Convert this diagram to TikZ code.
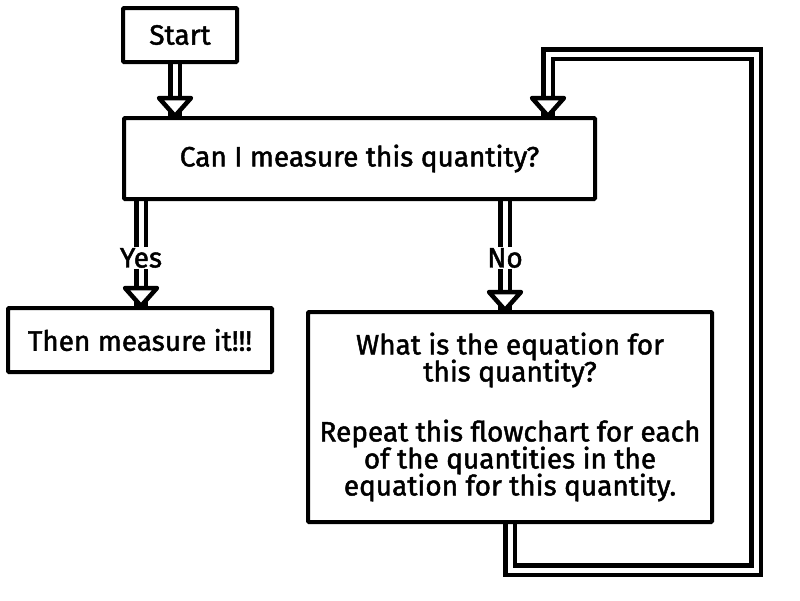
\documentclass[tikz,border=0pt]{standalone}
\usepackage{fontspec}
\setmainfont{Fira Sans}[BoldFont=Fira Sans, BoldFeatures={FakeBold=1.6}]
\usetikzlibrary{backgrounds}
\newcommand\tightlines{\lineskiplimit=-20pt\relax}

\tikzset{
  box/.style={draw, line width=4pt, fill=white, rounded corners=1pt, align=center,
    font=\fontsize{28}{27}\selectfont\bfseries\tightlines},
  pipe/.style={draw, line width=4.5pt, double=white, double distance=5pt},
  lbl/.style={fill=white, inner sep=1pt, font=\fontsize{28}{27}\selectfont\bfseries},
  head/.pic={\draw[line width=4.5pt, line join=round, fill=white] (0,0) -- (-16,-18) -- (16,-18) -- cycle;}
}

\begin{document}
\begin{tikzpicture}[x=1pt, y=-1pt]
    \useasboundingbox (0,0) rectangle (800,600);

    \node[box, minimum width=114, minimum height=54] (start) at (180,35) {Start};
    \node[box, minimum width=471, minimum height=81] (ask) at (359.5,158.5) {Can I measure this quantity?};
    \node[box, minimum width=264, minimum height=64] (then) at (140,340) {Then measure it!!!};
    \node[box, minimum width=404, minimum height=210] (what) at (510,417)
      {What is the equation for\\ this quantity?\\[33pt] Repeat this flowchart for each\\ of the quantities in the\\ equation for this quantity.};

    \coordinate (xs) at (175,0);
    \coordinate (xy) at (141,0);
    \coordinate (xn) at (505,0);
    \coordinate (r) at (756,570);
    \coordinate (t) at (548,54);

    \begin{scope}[on background layer]
      \draw[pipe] (start.south -| xs) -- (ask.north -| xs);
      \pic at (ask.north -| xs) {head};

      \draw[pipe] (ask.south -| xy) -- (then.north -| xy);
      \pic at (then.north -| xy) {head};
      \node[lbl] (yes) at (141,258) {Yes};

      \draw[pipe] (ask.south -| xn) -- (what.north -| xn);
      \pic at (what.north -| xn) {head};
      \node[lbl] (no) at (505,258) {No};

      % loop back to the question
      \draw[pipe] (what.south) |- (r) |- (t) -- (t |- ask.north);
      \pic at (t |- ask.north) {head};
    \end{scope}
\end{tikzpicture}
\end{document}
